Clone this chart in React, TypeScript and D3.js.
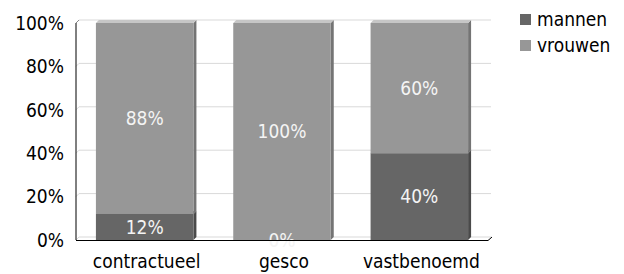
import * as d3 from 'd3';
import React from 'react';

const categories = ['contractueel', 'gesco', 'vastbenoemd'];
const mannen = [12, 0, 40];
const vrouwen = [88, 100, 60];
const seriesNames = ['mannen', 'vrouwen'];
const yTicks = [0, 20, 40, 60, 80, 100];

const W = 624;
const H = 274;
const margin = { left: 76, right: 136, top: 23, bottom: 34 };
const depth = 3; // fake 3D offset

const font = "'DejaVu Sans Condensed', 'DejaVu Sans', sans-serif";

const colors: Record<string, { front: string; side: string; top: string }> = {
  mannen: { front: '#666666', side: '#4a4a4a', top: '#8a8a8a' },
  vrouwen: { front: '#979797', side: '#747474', top: '#c6c6c6' },
};

const App: React.FC = () => {
  const x = d3
    .scaleBand<string>()
    .domain(categories)
    .range([margin.left, W - margin.right])
    .paddingInner(0.29)
    .paddingOuter(0.145);

  const y = d3
    .scaleLinear()
    .domain([0, 100])
    .range([H - margin.bottom, margin.top]);

  const rows = categories.map((c, i) => ({ cat: c, mannen: mannen[i], vrouwen: vrouwen[i] }));
  const stacked = d3.stack<{ cat: string; mannen: number; vrouwen: number }>().keys(seriesNames)(rows);

  const x0 = margin.left;
  const x1 = W - margin.right;
  const y0 = y(0);

  return (
    <svg
      width={W}
      height={H}
      style={{ position: 'absolute', left: 0, top: 0, fontFamily: font, fontStretch: 'condensed' }}
    >
      {/* back wall gridlines */}
      {yTicks.map(t => (
        <g key={t}>
          <line x1={x0 + depth} x2={x1 + depth} y1={y(t) - depth} y2={y(t) - depth} stroke="#d9d9d9" />
          <line x1={x0} x2={x0 + depth} y1={y(t)} y2={y(t) - depth} stroke="#d9d9d9" />
        </g>
      ))}

      {/* bars */}
      {stacked.map(s =>
        s.map((d, i) => {
          const bx = x(d.data.cat)!;
          const bw = x.bandwidth();
          const yt = y(d[1]);
          const yb = y(d[0]);
          const c = colors[s.key];
          if (d[1] - d[0] <= 0) return null;
          return (
            <g key={s.key + i}>
              <polygon
                points={`${bx + bw},${yb} ${bx + bw + depth},${yb - depth} ${bx + bw + depth},${yt - depth} ${bx + bw},${yt}`}
                fill={c.side}
              />
              <polygon
                points={`${bx},${yt} ${bx + depth},${yt - depth} ${bx + bw + depth},${yt - depth} ${bx + bw},${yt}`}
                fill={c.top}
              />
              <rect x={bx} y={yt} width={bw} height={yb - yt} fill={c.front} />
            </g>
          );
        })
      )}

      {/* data labels */}
      {stacked.map(s =>
        s.map((d, i) => (
          <text
            key={'l' + s.key + i}
            x={x(d.data.cat)! + x.bandwidth() / 2}
            y={(y(d[0]) + y(d[1])) / 2}
            dy="0.36em"
            textAnchor="middle"
            fontSize={19}
            fill="#f4f4f4"
          >
            {d[1] - d[0]}%
          </text>
        ))
      )}

      {/* axes */}
      <line x1={x0} x2={x0} y1={y(100)} y2={y0} stroke="#000" />
      <line x1={x0} x2={x0 + depth} y1={y(100)} y2={y(100) - depth} stroke="#888" />
      <line x1={x0} x2={x1} y1={y0 + 0.5} y2={y0 + 0.5} stroke="#000" />
      <line x1={x1} x2={x1 + depth + 1} y1={y0 + 0.5} y2={y0 - depth} stroke="#000" />

      {yTicks.map(t => (
        <text key={'t' + t} x={x0 - 12} y={y(t)} dy="0.36em" textAnchor="end" fontSize={19} fill="#000">
          {t}%
        </text>
      ))}

      {categories.map(c => (
        <text key={c} x={x(c)! + x.bandwidth() / 2 + 2} y={y0 + 28} textAnchor="middle" fontSize={19} fill="#000">
          {c}
        </text>
      ))}

      {/* legend */}
      {seriesNames.map((n, i) => (
        <g key={n} transform={`translate(520, ${19.5 + i * 26})`}>
          <rect x={0} y={-5.5} width={11} height={11} fill={colors[n].front} />
          <text x={17} y={0} dy="0.36em" fontSize={19} fill="#000">
            {n}
          </text>
        </g>
      ))}
    </svg>
  );
};

export default App;
